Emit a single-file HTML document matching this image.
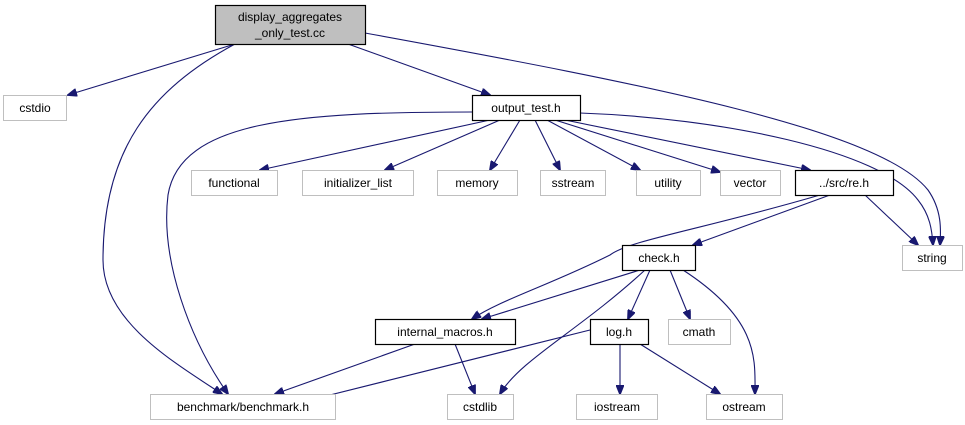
<!DOCTYPE html>
<html><head><meta charset="utf-8"><style>
html,body{margin:0;padding:0;background:#fff;}
svg{display:block;}
text{font-family:"Liberation Sans","DejaVu Sans",sans-serif;font-size:12px;fill:#000;text-anchor:middle;}
.g{fill:#fff;stroke:#bfbfbf;stroke-width:1;}
.b{fill:#fff;stroke:#000;stroke-width:1.2;}
path.e{fill:none;stroke:#191970;stroke-width:1.1;}
</style></head><body>
<svg width="965" height="425" viewBox="0 0 965 425">
<defs><marker id="a" markerWidth="10" markerHeight="8" refX="9" refY="4" orient="auto" markerUnits="userSpaceOnUse"><path d="M0,0 L10,4 L0,8 z" fill="#191970" stroke="#191970"/></marker></defs>
<g marker-end="url(#a)">
<path class="e" d="M235,44 L68,95"/>
<path class="e" d="M348,44 L490,95"/>
<path class="e" d="M365,33 C650,85 880,130 928,190 C942,210 941,230 940,245"/>
<path class="e" d="M235,44 C150,90 103,150 103,260 C103,320 170,360 222,394"/>
<path class="e" d="M472,112 C300,112 180,120 168,195 C160,260 190,340 228,394"/>
<path class="e" d="M490,120 L260,170"/>
<path class="e" d="M500,120 L385,170"/>
<path class="e" d="M520,120 L490,170"/>
<path class="e" d="M535,120 L560,170"/>
<path class="e" d="M547,120 L640,170"/>
<path class="e" d="M555,120 L720,172"/>
<path class="e" d="M565,120 L810,170"/>
<path class="e" d="M580,113 C720,118 880,150 918,200 C930,215 932,230 933,245"/>
<path class="e" d="M865,195 L918,245"/>
<path class="e" d="M830,195 L693,245"/>
<path class="e" d="M820,195 C700,230 630,240 610,255 C550,285 500,300 472,319"/>
<path class="e" d="M640,270 L482,319"/>
<path class="e" d="M645,270 C580,330 520,360 500,394"/>
<path class="e" d="M650,270 L628,319"/>
<path class="e" d="M670,270 L690,319"/>
<path class="e" d="M683,270 C760,320 755,360 755,394"/>
<path class="e" d="M415,344 L275,394"/>
<path class="e" d="M455,344 L475,394"/>
<path class="e" d="M590,330 L310,400"/>
<path class="e" d="M620,344 L620,394"/>
<path class="e" d="M640,344 L720,394"/>
</g>
<rect x="215.5" y="5.5" width="150" height="39" fill="#bfbfbf" stroke="#000" stroke-width="1.2"/>
<text x="290" y="21">display_aggregates</text><text x="290" y="37">_only_test.cc</text>
<rect class="g" x="3.5" y="95.5" width="63" height="25"/><text x="35" y="112">cstdio</text>
<rect class="b" x="472.5" y="95.5" width="108" height="25"/><text x="526" y="112">output_test.h</text>
<rect class="g" x="191.5" y="170.5" width="86" height="25"/><text x="234" y="187">functional</text>
<rect class="g" x="302.5" y="170.5" width="111" height="25"/><text x="358" y="187">initializer_list</text>
<rect class="g" x="437.5" y="170.5" width="80" height="25"/><text x="477" y="187">memory</text>
<rect class="g" x="540.5" y="170.5" width="65" height="25"/><text x="573" y="187">sstream</text>
<rect class="g" x="636.5" y="170.5" width="64" height="25"/><text x="668" y="187">utility</text>
<rect class="g" x="720.5" y="170.5" width="60" height="25"/><text x="750" y="187">vector</text>
<rect class="b" x="795.5" y="170.5" width="98" height="25"/><text x="844" y="187">../src/re.h</text>
<rect class="g" x="902.5" y="245.5" width="60" height="25"/><text x="932" y="262">string</text>
<rect class="b" x="622.5" y="245.5" width="73" height="25"/><text x="659" y="262">check.h</text>
<rect class="b" x="375.5" y="319.5" width="140" height="25"/><text x="445" y="336">internal_macros.h</text>
<rect class="b" x="590.5" y="319.5" width="58" height="25"/><text x="619" y="336">log.h</text>
<rect class="g" x="668.5" y="319.5" width="62" height="25"/><text x="699" y="336">cmath</text>
<rect class="g" x="150.5" y="394.5" width="185" height="25"/><text x="243" y="411">benchmark/benchmark.h</text>
<rect class="g" x="447.5" y="394.5" width="66" height="25"/><text x="480" y="411">cstdlib</text>
<rect class="g" x="576.5" y="394.5" width="81" height="25"/><text x="617" y="411">iostream</text>
<rect class="g" x="706.5" y="394.5" width="76" height="25"/><text x="744" y="411">ostream</text>
</svg>
</body></html>
